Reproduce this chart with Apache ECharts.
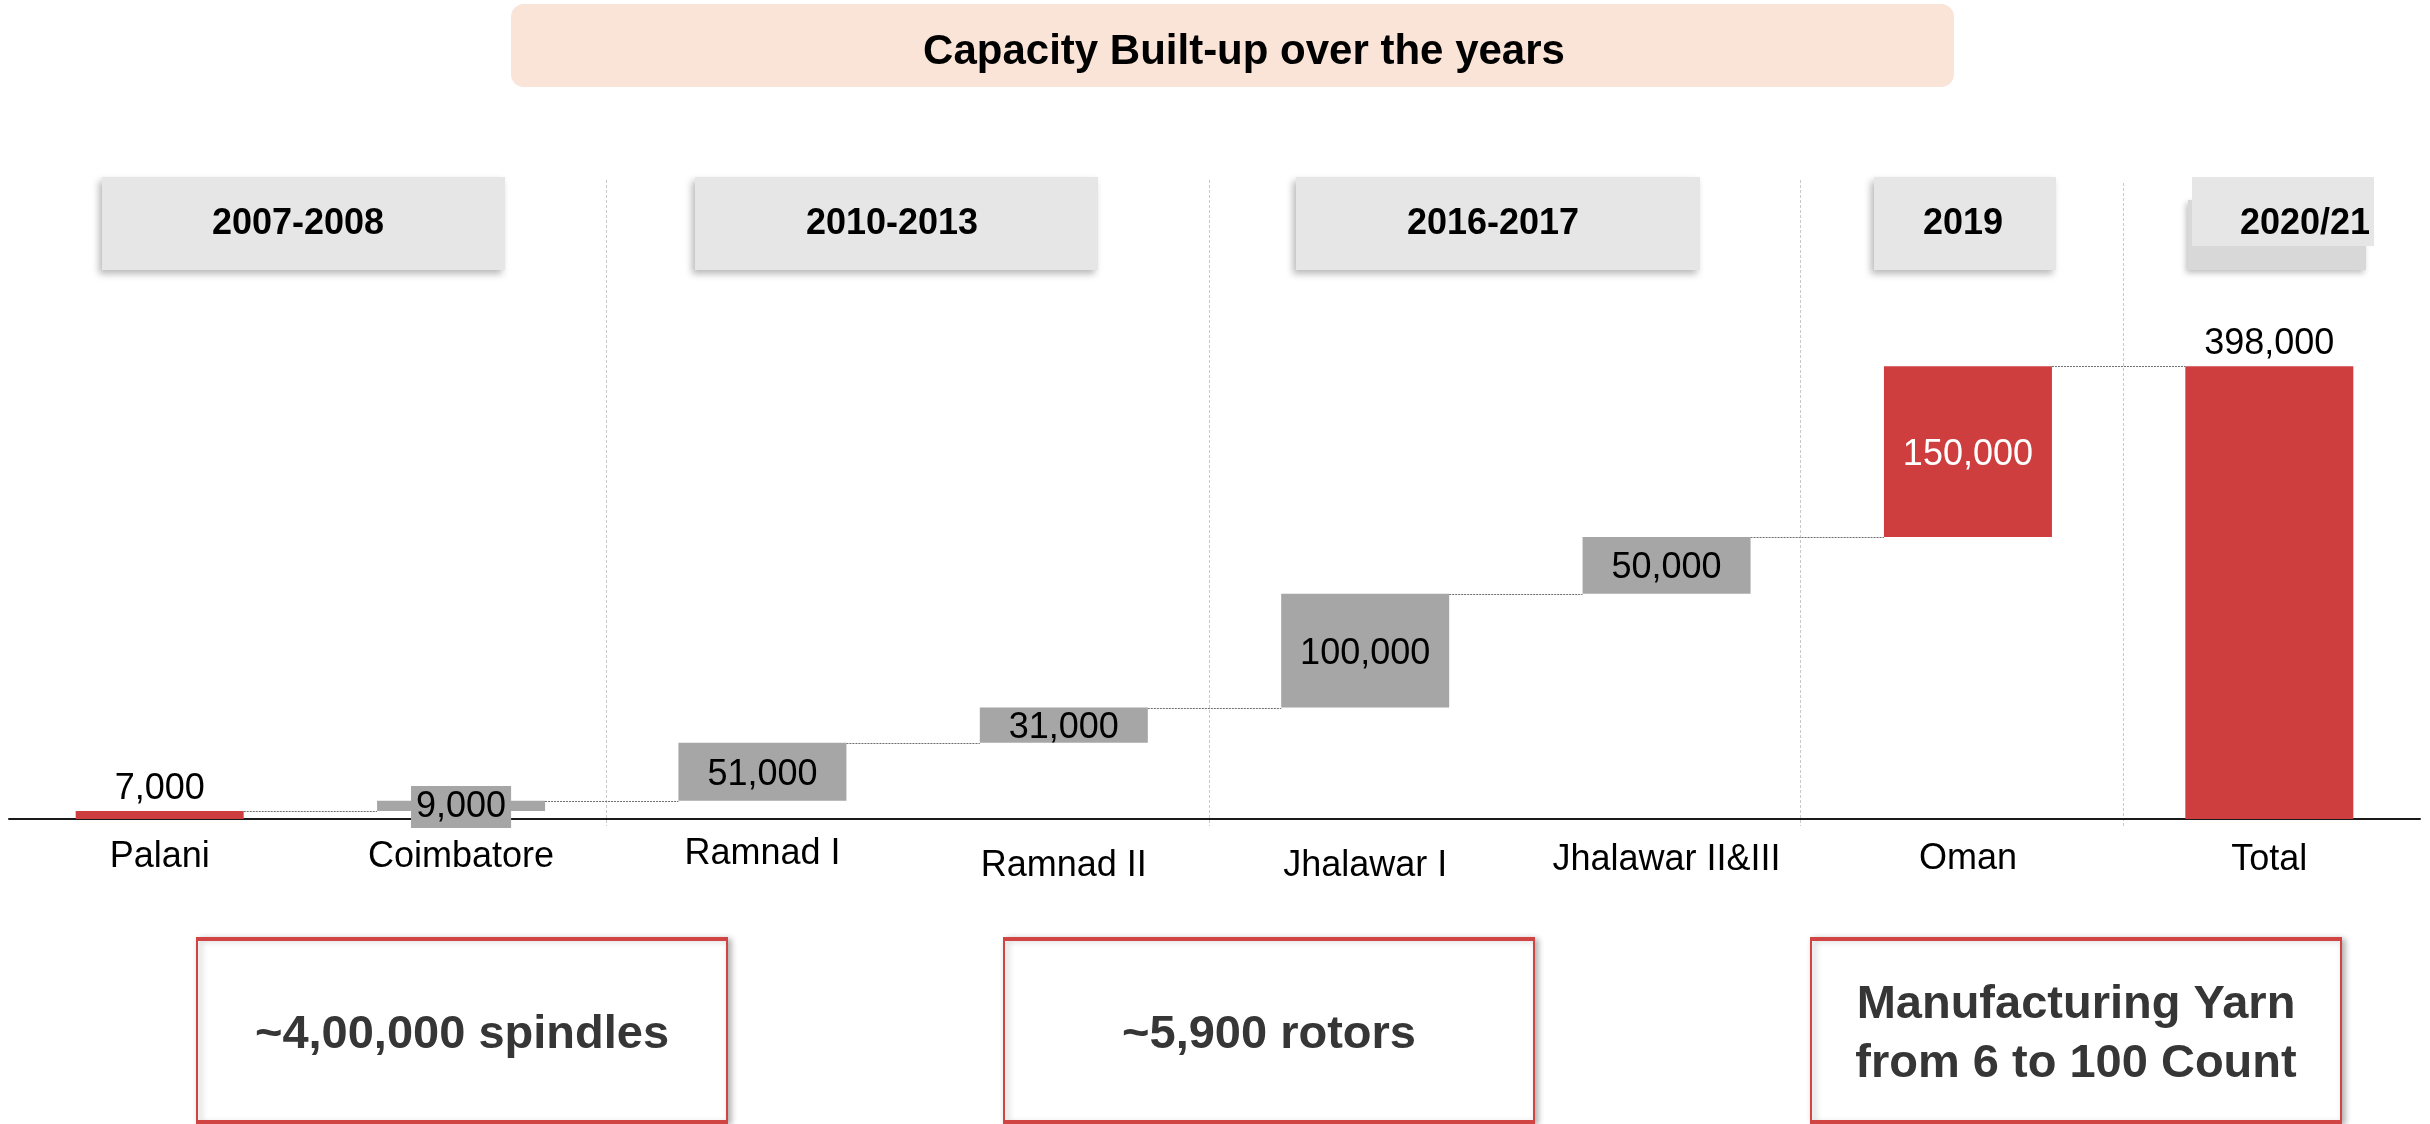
<!DOCTYPE html>
<html>
<head>
<meta charset="utf-8">
<script src="https://cdn.jsdelivr.net/npm/echarts@6/dist/echarts.min.js"></script>
<style>
html,body{margin:0;padding:0;background:#fff;}
#chart{width:2430px;height:1124px;}
</style>
</head>
<body>
<div id="chart"></div>
<script>
// ---------- data ----------
const chartTitle = 'Capacity Built-up over the years';
const categories = ['Palani', 'Coimbatore', 'Ramnad I', 'Ramnad II', 'Jhalawar I', 'Jhalawar II&III', 'Oman', 'Total'];
const increments = [7000, 9000, 51000, 31000, 100000, 50000, 150000, 398000];
const totalCategory = 'Total';
const periods = ['2007-2008', '2010-2013', '2016-2017', '2019', '2020/21'];
const highlights = ['~4,00,000 spindles', '~5,900 rotors', 'Manufacturing Yarn\nfrom 6 to 100 Count'];

// ---------- styling / layout ----------
const RED = '#CF3E3E';
const GRAY = '#A6A6A6';
const FONT = '"Liberation Sans", Arial, sans-serif';
const redSet = { 'Palani': 1, 'Oman': 1, 'Total': 1 };
const labelShift = { 'Palani': 3, 'Coimbatore': 3, 'Ramnad I': 0, 'Ramnad II': 12, 'Jhalawar I': 12, 'Jhalawar II&III': 6, 'Oman': 5, 'Total': 6 };
const BAR_W = 168;

// waterfall bases (running sum of increments, totals start at 0)
const bases = [];
const levels = [];
let run = 0;
categories.forEach((c, i) => {
  if (c === totalCategory) { bases.push(0); levels.push(increments[i]); }
  else { bases.push(run); run += increments[i]; levels.push(run); }
});

const fmt = v => v.toLocaleString('en-US');

const valueData = increments.map((v, i) => {
  const c = categories[i];
  const item = { value: v, itemStyle: { color: redSet[c] ? RED : GRAY } };
  if (c === 'Palani' || c === totalCategory) {
    item.label = { position: 'top', distance: 5, offset: [0, 1] };
  } else if (c === 'Coimbatore') {
    item.label = { position: 'inside', backgroundColor: GRAY, padding: [3, 5], offset: [0, 1] };
  } else if (c === 'Oman') {
    item.label = { position: 'inside', color: '#fff' };
  }
  return item;
});

const catData = categories.map(c => ({
  value: c,
  textStyle: { lineHeight: 36 + 2 * labelShift[c] }
}));

// connectors between consecutive bars (not after the total)
const connectorData = [];
for (let i = 0; i < categories.length - 1; i++) connectorData.push([i, levels[i]]);

// ---------- graphics (boxes) ----------
const graphics = [];
// title box
graphics.push({ type: 'rect', shape: { x: 511, y: 4, width: 1443, height: 83, r: 13 }, style: { fill: '#FAE3D7' }, z: 1 });
graphics.push({ type: 'text', x: 1244, y: 52, style: { text: chartTitle, font: 'bold 42px ' + FONT, fill: '#000', textAlign: 'center', textVerticalAlign: 'middle' }, z: 2 });

// period boxes
const periodBoxes = [[102, 403], [695, 403], [1296, 404], [1874, 182], [2192, 182]];
const periodTextX = [298, 892, 1493, 1963, null];
periods.forEach((p, i) => {
  const [x, w] = periodBoxes[i];
  if (i === periods.length - 1) {
    graphics.push({ type: 'rect', shape: { x: x - 4, y: 200, width: w - 4, height: 70 }, style: { fill: '#D8D8D8', shadowBlur: 6, shadowOffsetX: -2, shadowOffsetY: 3, shadowColor: 'rgba(0,0,0,0.25)' }, z: 1 });
    graphics.push({ type: 'rect', shape: { x: x, y: 177, width: w, height: 69 }, style: { fill: '#E6E6E6' }, z: 2 });
    graphics.push({ type: 'text', x: 2240, y: 224, style: { text: p, font: 'bold 36px ' + FONT, fill: '#000', textAlign: 'left', textVerticalAlign: 'middle' }, z: 3 });
  } else {
    graphics.push({ type: 'rect', shape: { x: x, y: 177, width: w, height: 93 }, style: { fill: '#E6E6E6', shadowBlur: 7, shadowOffsetX: -3, shadowOffsetY: 4, shadowColor: 'rgba(0,0,0,0.28)' }, z: 2 });
    graphics.push({ type: 'text', x: periodTextX[i], y: 224, style: { text: p, font: 'bold 36px ' + FONT, fill: '#000', textAlign: 'center', textVerticalAlign: 'middle' }, z: 3 });
  }
});

// vertical separators
[[606, 180], [1209, 180], [1800, 180], [2123, 183]].forEach(([x, y0]) => {
  graphics.push({ type: 'line', shape: { x1: x + 0.5, y1: y0, x2: x + 0.5, y2: 826 }, style: { stroke: '#C8C8C8', lineWidth: 1, lineDash: [3, 2] }, z: 0 });
});

// highlight boxes
const hlBoxes = [197, 1004, 1811];
highlights.forEach((t, i) => {
  const x = hlBoxes[i];
  graphics.push({ type: 'rect', shape: { x: x, y: 938, width: 530, height: 184 }, style: { fill: '#fff', stroke: '#D04444', lineWidth: 2, shadowBlur: 6, shadowOffsetX: 3, shadowOffsetY: 2, shadowColor: 'rgba(0,0,0,0.3)' }, z: 1 });
  graphics.push({ type: 'rect', shape: { x: x - 1, y: 937, width: 532, height: 4 }, style: { fill: '#D04444' }, z: 2 });
  graphics.push({ type: 'rect', shape: { x: x - 1, y: 1120, width: 532, height: 4 }, style: { fill: '#D04444' }, z: 2 });
  graphics.push({ type: 'text', x: x + 265, y: 1035, style: { text: t, font: 'bold 47px ' + FONT, fill: '#363636', textAlign: 'center', textVerticalAlign: 'middle', lineHeight: 59 }, z: 3 });
});

// ---------- chart ----------
const chart = echarts.init(document.getElementById('chart'), null, { renderer: 'canvas' });
chart.setOption({
  animation: false,
  backgroundColor: '#fff',
  textStyle: { fontFamily: FONT },
  grid: { left: 9, right: 10, top: 364, bottom: 305, containLabel: false },
  xAxis: {
    type: 'category',
    data: catData,
    axisLine: { lineStyle: { color: '#1a1a1a', width: 2 } },
    axisTick: { show: false },
    axisLabel: { color: '#000', fontSize: 36, fontFamily: FONT, margin: 17, interval: 0, verticalAlign: 'top' },
    splitLine: { show: false }
  },
  yAxis: { type: 'value', min: 0, max: 400000, show: false, splitLine: { show: false } },
  series: [
    {
      name: 'base', type: 'bar', stack: 'w', barWidth: BAR_W, silent: true,
      itemStyle: { color: 'transparent' }, data: bases, z: 2
    },
    {
      name: 'value', type: 'bar', stack: 'w', barWidth: BAR_W, z: 3,
      label: { show: true, position: 'inside', color: '#000', fontSize: 36, fontFamily: FONT, offset: [0, 3], formatter: p => fmt(p.value) },
      data: valueData
    },
    {
      name: 'connector', type: 'custom', z: 1, silent: true,
      renderItem: (params, api) => {
        const i = api.value(0);
        const pt = api.coord([i, api.value(1)]);
        const band = api.size([1, 0])[0];
        const y = Math.round(pt[1]) + 0.5;
        return {
          type: 'line',
          shape: { x1: pt[0] + BAR_W / 2, y1: y, x2: pt[0] + band - BAR_W / 2, y2: y },
          style: { stroke: '#6e6e6e', lineWidth: 1, lineDash: [2, 1] }
        };
      },
      data: connectorData
    }
  ],
  graphic: graphics
});
</script>
</body>
</html>
